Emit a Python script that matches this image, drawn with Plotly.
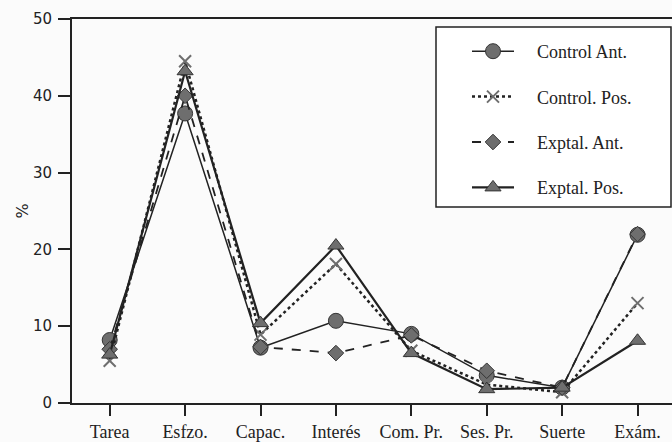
import plotly.graph_objects as go

categories = ["Tarea", "Esfzo.", "Capac.", "Interés", "Com. Pr.", "Ses. Pr.", "Suerte", "Exám."]
control_ant = [8.2, 37.7, 7.2, 10.7, 9.0, 3.6, 2.0, 21.9]
control_pos = [5.5, 44.5, 8.9, 18.1, 6.8, 2.4, 1.4, 13.0]
exptal_ant = [7.0, 40.0, 7.3, 6.5, 8.8, 4.2, 2.0, 22.0]
exptal_pos = [6.3, 43.2, 10.4, 20.5, 6.5, 1.8, 2.0, 8.1]
y_ticks = [0, 10, 20, 30, 40, 50]

series = [
    ("Control Ant.", control_ant, "solid", 1.5, "circle", 15),
    ("Control. Pos.", control_pos, "dot", 2.5, "x-thin-open", 12),
    ("Exptal. Ant.", exptal_ant, "dash", 1.8, "diamond", 12),
    ("Exptal. Pos.", exptal_pos, "solid", 2.2, "triangle-up", 14),
]

PAD = "\u00a0\u00a0\u00a0\u00a0"

fig = go.Figure()
for i, (name, vals, dash, lw, sym, ms) in enumerate(series):
    fig.add_trace(go.Scatter(
        x=list(range(len(categories))), y=vals, name=PAD + name, mode="lines+markers",
        legendgroup=f"g{i}",
        line=dict(color="#222222", width=lw, dash=dash),
        marker=dict(symbol=sym, size=ms, color="#6e6e6e",
                    line=dict(color="#333333", width=2 if sym.startswith("x") else 1)),
    ))

PL, PT, PW, PH = 72, 19, 600, 384

def px_x(px):
    return (px - PL) / PW

def px_y(py):
    return (PT + PH - py) / PH

fig.add_shape(type="rect", xref="paper", yref="paper",
              x0=px_x(436), x1=px_x(671), y0=px_y(207), y1=px_y(27),
              line=dict(color="#222222", width=1.5), fillcolor="#ffffff", layer="below")

fig.update_layout(
    width=672, height=442,
    margin=dict(l=PL, r=0, t=PT, b=442 - PT - PH, autoexpand=False),
    paper_bgcolor="#fbfbfb", plot_bgcolor="#fbfbfb",
    showlegend=True,
    legend=dict(
        x=px_x(438), y=px_y(33), xanchor="left", yanchor="top",
        borderwidth=0, bgcolor="rgba(0,0,0,0)",
        font=dict(family="Liberation Serif", size=18, color="#222222"),
        tracegroupgap=19, itemwidth=42, indentation=29,
    ),
    xaxis=dict(
        range=[-0.5, 7.457], tickmode="array",
        tickvals=list(range(len(categories))), ticktext=categories,
        showline=True, linecolor="#222222", linewidth=2, mirror=True,
        ticks="outside", ticklen=11, tickwidth=1.5, tickcolor="#222222",
        showgrid=False, zeroline=False, automargin=False,
        tickfont=dict(family="Liberation Serif", size=18, color="#222222"),
    ),
    yaxis=dict(
        range=[0, 50], tickvals=y_ticks,
        showline=True, linecolor="#222222", linewidth=2,
        ticks="outside", ticklen=12, tickwidth=1.5, tickcolor="#222222",
        showgrid=False, zeroline=False, automargin=False, ticklabelstandoff=3,
        tickfont=dict(family="DejaVu Sans", size=15, color="#222222"),
        title=dict(text="%", font=dict(family="DejaVu Sans", size=16, color="#222222"), standoff=0),
    ),
)

fig.write_html("out.html", config={"displayModeBar": False},
               post_script="document.body.style.margin='0';")
